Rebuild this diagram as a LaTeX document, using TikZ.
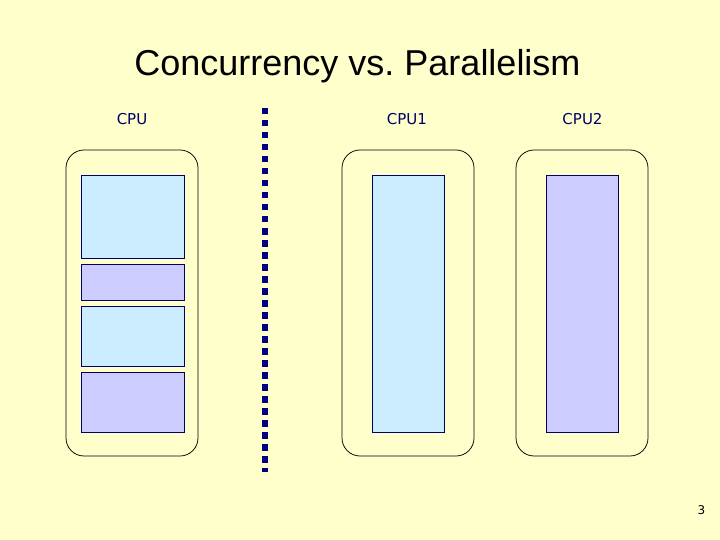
\documentclass[tikz,border=0pt]{standalone}
\usepackage{fontspec}
\setmainfont{Liberation Sans}
\newfontfamily\labelfont{DejaVu Sans}
\usepackage{tikz}
\usetikzlibrary{calc}

\definecolor{slidebg}{HTML}{FFFFCC}
\definecolor{taskblue}{HTML}{CCECFF}
\definecolor{tasklilac}{HTML}{CCCCFF}
\definecolor{cpunavy}{HTML}{000066}
\definecolor{linenavy}{HTML}{000080}

\tikzset{
  cpubox/.style={draw=black, line width=0.75pt, rounded corners=18pt},
  task/.style={draw=cpunavy, line width=0.75pt},
  cpulabel/.style={anchor=base, font=\labelfont\fontsize{15}{18}\selectfont, text=cpunavy},
}

\begin{document}
\frenchspacing
\begin{tikzpicture}[x=1pt, y=-1pt]
  % ----- Slide background -----
  \useasboundingbox (0,0) rectangle (720,540);
  \fill[slidebg] (0,0) rectangle (720,540);

  % ----- Title -----
  \node[anchor=base, font=\fontsize{36}{40}\selectfont] (title) at (357.5, 76) {Concurrency vs. Parallelism};

  % ----- Left Side: one CPU, tasks interleaved -----
  \node[cpulabel] (cpu) at (132, 125) {CPU};
  \draw[cpubox] (66,150) rectangle (198,456);
  \draw[task, fill=taskblue]  (81,175) rectangle (184,258);
  \draw[task, fill=tasklilac] (81,264) rectangle (184,300);
  \draw[task, fill=taskblue]  (81,306) rectangle (184,366);
  \draw[task, fill=tasklilac] (81,372) rectangle (184,432);

  % ----- Divider -----
  \coordinate (divtop) at (265,108);
  \coordinate (divbot) at (265,472);
  \draw[linenavy, line width=6.5pt, dash pattern=on 6.5pt off 5.5pt] (divtop) -- (divbot);

  % ----- Right Side: two CPUs, tasks side by side -----
  \node[cpulabel] (cpuone) at (407, 125) {CPU1};
  \draw[cpubox] (342,150) rectangle (474,456);
  \draw[task, fill=taskblue] (372,175) rectangle (444,432);

  \node[cpulabel] (cputwo) at (582.5, 125) {CPU2};
  \draw[cpubox] (516,150) rectangle (648,456);
  \draw[task, fill=tasklilac] (546,175) rectangle (618,432);

  % ----- Page number -----
  \node[anchor=base, font=\labelfont\fontsize{12}{14}\selectfont] (pagenum) at (701.5, 514) {3};
\end{tikzpicture}
\end{document}
